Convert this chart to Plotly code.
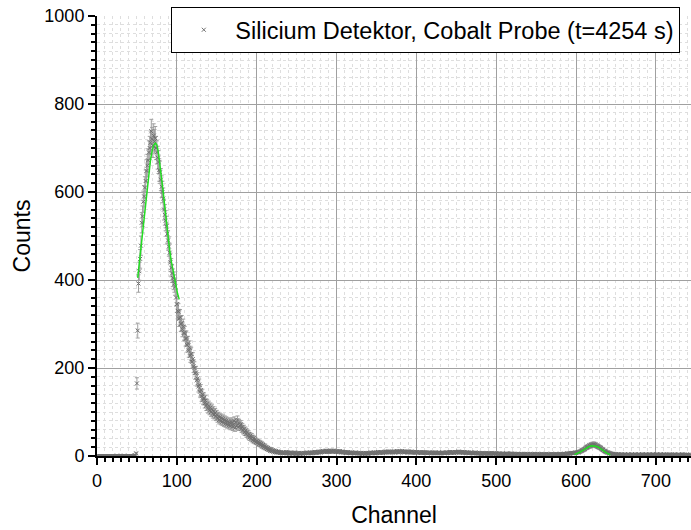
import plotly.graph_objects as go

# Counts per channel (channel = index)
counts = [
    # 0-49
    0,0,0,0,0,0,0,0,0,0, 0,0,0,0,0,0,0,0,0,0, 0,0,0,0,0,1,0,0,0,0, 0,0,0,0,1,0,0,0,0,0, 0,0,0,0,0,0,0,1,2,6,
    # 50-99
    165,285,392,420,448,478,530,545,578,590, 610,625,648,660,672,690,700,712,738,720,
    705,728,715,722,700,690,678,668,650,645, 628,612,600,585,560,548,535,522,505,490,
    476,462,440,428,415,405,398,392,385,360,
    # 100-149
    345,330,328,312,315,300,302,288,294,280, 278,266,268,252,256,240,246,228,232,214,
    220,204,200,188,190,172,176,158,162,146, 150,136,140,128,132,120,126,114,118,108,
    114,104,110,100,106,96,102,94,98,90,
    # 150-199
    94,86,90,82,88,80,86,78,84,76, 82,74,80,72,78,70,76,68,74,78,
    66,72,80,64,76,70,82,66,74,68, 72,62,66,58,62,54,58,50,54,46,
    50,42,46,40,44,36,40,34,38,32,
    # 200-249
    34,30,32,27,30,25,28,22,25,20, 23,18,20,16,18,14,16,12,15,11,
    13,10,12,9,11,8,10,8,9,7, 9,7,8,6,8,6,7,9,6,8, 7,5,8,6,7,5,7,6,8,5,
    # 250-299
    6,5,7,6,5,6,7,6,5,7, 6,7,6,8,7,6,7,8,7,6, 8,7,8,9,7,8,9,8,10,9,
    8,10,9,11,10,9,10,12,11,10, 11,9,10,12,11,10,12,11,10,9,
    # 300-349
    11,10,9,10,11,9,8,10,9,8, 9,8,7,8,9,7,8,7,6,8, 7,6,7,6,8,7,6,7,6,5,
    7,6,5,6,7,6,5,7,6,5, 6,7,6,8,7,6,7,8,7,6,
    # 350-399
    8,7,9,8,7,8,9,8,7,9, 8,10,9,8,9,10,8,9,10,9, 8,9,10,8,9,10,11,9,8,10,
    9,10,11,9,10,8,9,10,9,8, 10,9,8,9,10,8,9,8,7,9,
    # 400-449
    8,9,7,8,9,8,7,8,7,9, 8,7,8,7,6,8,7,8,7,6, 7,8,6,7,8,7,6,7,8,6,
    7,6,7,8,7,6,7,8,7,8, 7,8,9,7,8,9,8,7,9,8,
    # 450-499
    9,8,9,10,8,9,8,9,7,8, 9,8,7,8,7,8,6,7,8,7, 6,7,6,7,8,6,7,6,5,7,
    6,5,6,7,5,6,5,6,7,5, 6,5,6,5,7,6,5,6,5,6,
    # 500-549
    5,6,5,4,6,5,4,5,6,4, 5,4,5,6,4,5,4,5,4,6, 4,5,4,5,4,3,5,4,5,4,
    3,4,5,4,3,4,5,3,4,5, 4,3,4,5,4,3,4,3,5,4,
    # 550-599
    3,4,5,4,3,4,3,5,4,3, 4,3,4,5,3,4,3,4,3,5, 4,3,4,3,4,5,3,4,3,4,
    5,4,3,4,5,4,5,4,5,6, 5,6,5,6,7,6,7,6,7,8,
    # 600-649
    7,8,9,8,9,10,11,12,13,14, 15,16,18,19,20,21,22,24,23,25,
    26,24,27,25,26,24,23,22,21,20, 19,18,16,15,14,12,11,10,9,8,
    8,7,6,6,5,5,4,5,4,4,
    # 650-699
    4,3,4,3,4,3,3,4,3,2, 3,4,3,2,3,4,3,3,2,3, 4,3,2,3,4,3,2,3,3,4,
    3,2,3,4,3,2,3,3,4,3, 2,3,4,3,2,3,4,3,3,2,
    # 700-743
    3,4,3,2,3,3,4,3,2,3, 4,3,2,3,3,2,3,4,3,2, 3,2,3,3,4,3,2,3,2,3,
    3,2,3,4,3,2,3,2,3,3, 2,3,2,3,
]
channels = list(range(len(counts)))

# Fit curves (green)
fit1_ch = [51, 53, 55, 57, 59, 61, 63, 65, 67, 69, 71, 73, 75, 77, 79, 81, 83, 85, 87, 89, 91, 93, 95, 97, 99, 101, 103]
fit1_val = [405, 440, 478, 512, 548, 583, 618, 648, 673, 693, 706, 711, 707, 688, 662, 630, 598, 565, 530, 498, 468, 443, 422, 405, 385, 368, 356]
fit2_ch = [598, 601, 604, 607, 610, 613, 616, 619, 622, 625, 628, 631, 634, 637, 640, 643]
fit2_val = [3, 5, 8, 11, 15, 18, 21, 23, 23, 22, 20, 16, 12, 8, 5, 3]

legend_name = "Silicium Detektor, Cobalt Probe (t=4254 s)"
x_ticks = [0, 100, 200, 300, 400, 500, 600, 700]
y_ticks = [0, 200, 400, 600, 800, 1000]

fig = go.Figure()
fig.add_trace(go.Scatter(
    x=channels, y=counts, mode="markers", name=legend_name,
    marker=dict(symbol="x-thin", size=4, color="#707070", line=dict(color="#707070", width=1)),
    error_y=dict(type="sqrt", color="#a0a0a0", thickness=1, width=2),
))
fig.add_trace(go.Scatter(x=fit1_ch, y=fit1_val, mode="lines", showlegend=False,
                         line=dict(color="#22dd22", width=1.5)))
fig.add_trace(go.Scatter(x=fit2_ch, y=fit2_val, mode="lines", showlegend=False,
                         line=dict(color="#22dd22", width=1.5)))

font_family = "Liberation Sans, Arial, sans-serif"
axis_common = dict(
    showline=True, linecolor="black", linewidth=2, mirror=False,
    ticks="outside", ticklen=7, tickwidth=2, tickcolor="black",
    showgrid=True, gridcolor="#a0a0a0", gridwidth=1, zeroline=False,
    tickfont=dict(family=font_family, size=18, color="black"),
)
fig.update_xaxes(
    **axis_common, range=[0, 744], tickvals=x_ticks,
    title=dict(text="Channel", font=dict(family=font_family, size=23, color="black"), standoff=17),
    minor=dict(dtick=10, tick0=0, ticks="outside", ticklen=4, tickwidth=1.5, tickcolor="black",
               showgrid=True, gridcolor="#dedede", griddash="dot", gridwidth=1),
)
fig.update_yaxes(
    **axis_common, range=[0, 1000], tickvals=y_ticks,
    title=dict(text="Counts", font=dict(family=font_family, size=23, color="black"), standoff=7),
    minor=dict(dtick=20, tick0=0, ticks="outside", ticklen=4, tickwidth=1.5, tickcolor="black",
               showgrid=True, gridcolor="#dedede", griddash="dot", gridwidth=1),
)
fig.update_layout(
    width=691, height=530,
    margin=dict(l=97, r=0, t=16, b=74),
    plot_bgcolor="white", paper_bgcolor="white",
    font=dict(family=font_family, color="black"),
    legend=dict(x=0.982, xanchor="right", y=1.0205, yanchor="top",
                bgcolor="white", bordercolor="black", borderwidth=1, itemwidth=53,
                font=dict(family=font_family, size=23.5, color="black")),
)
fig.write_html("out.html")
